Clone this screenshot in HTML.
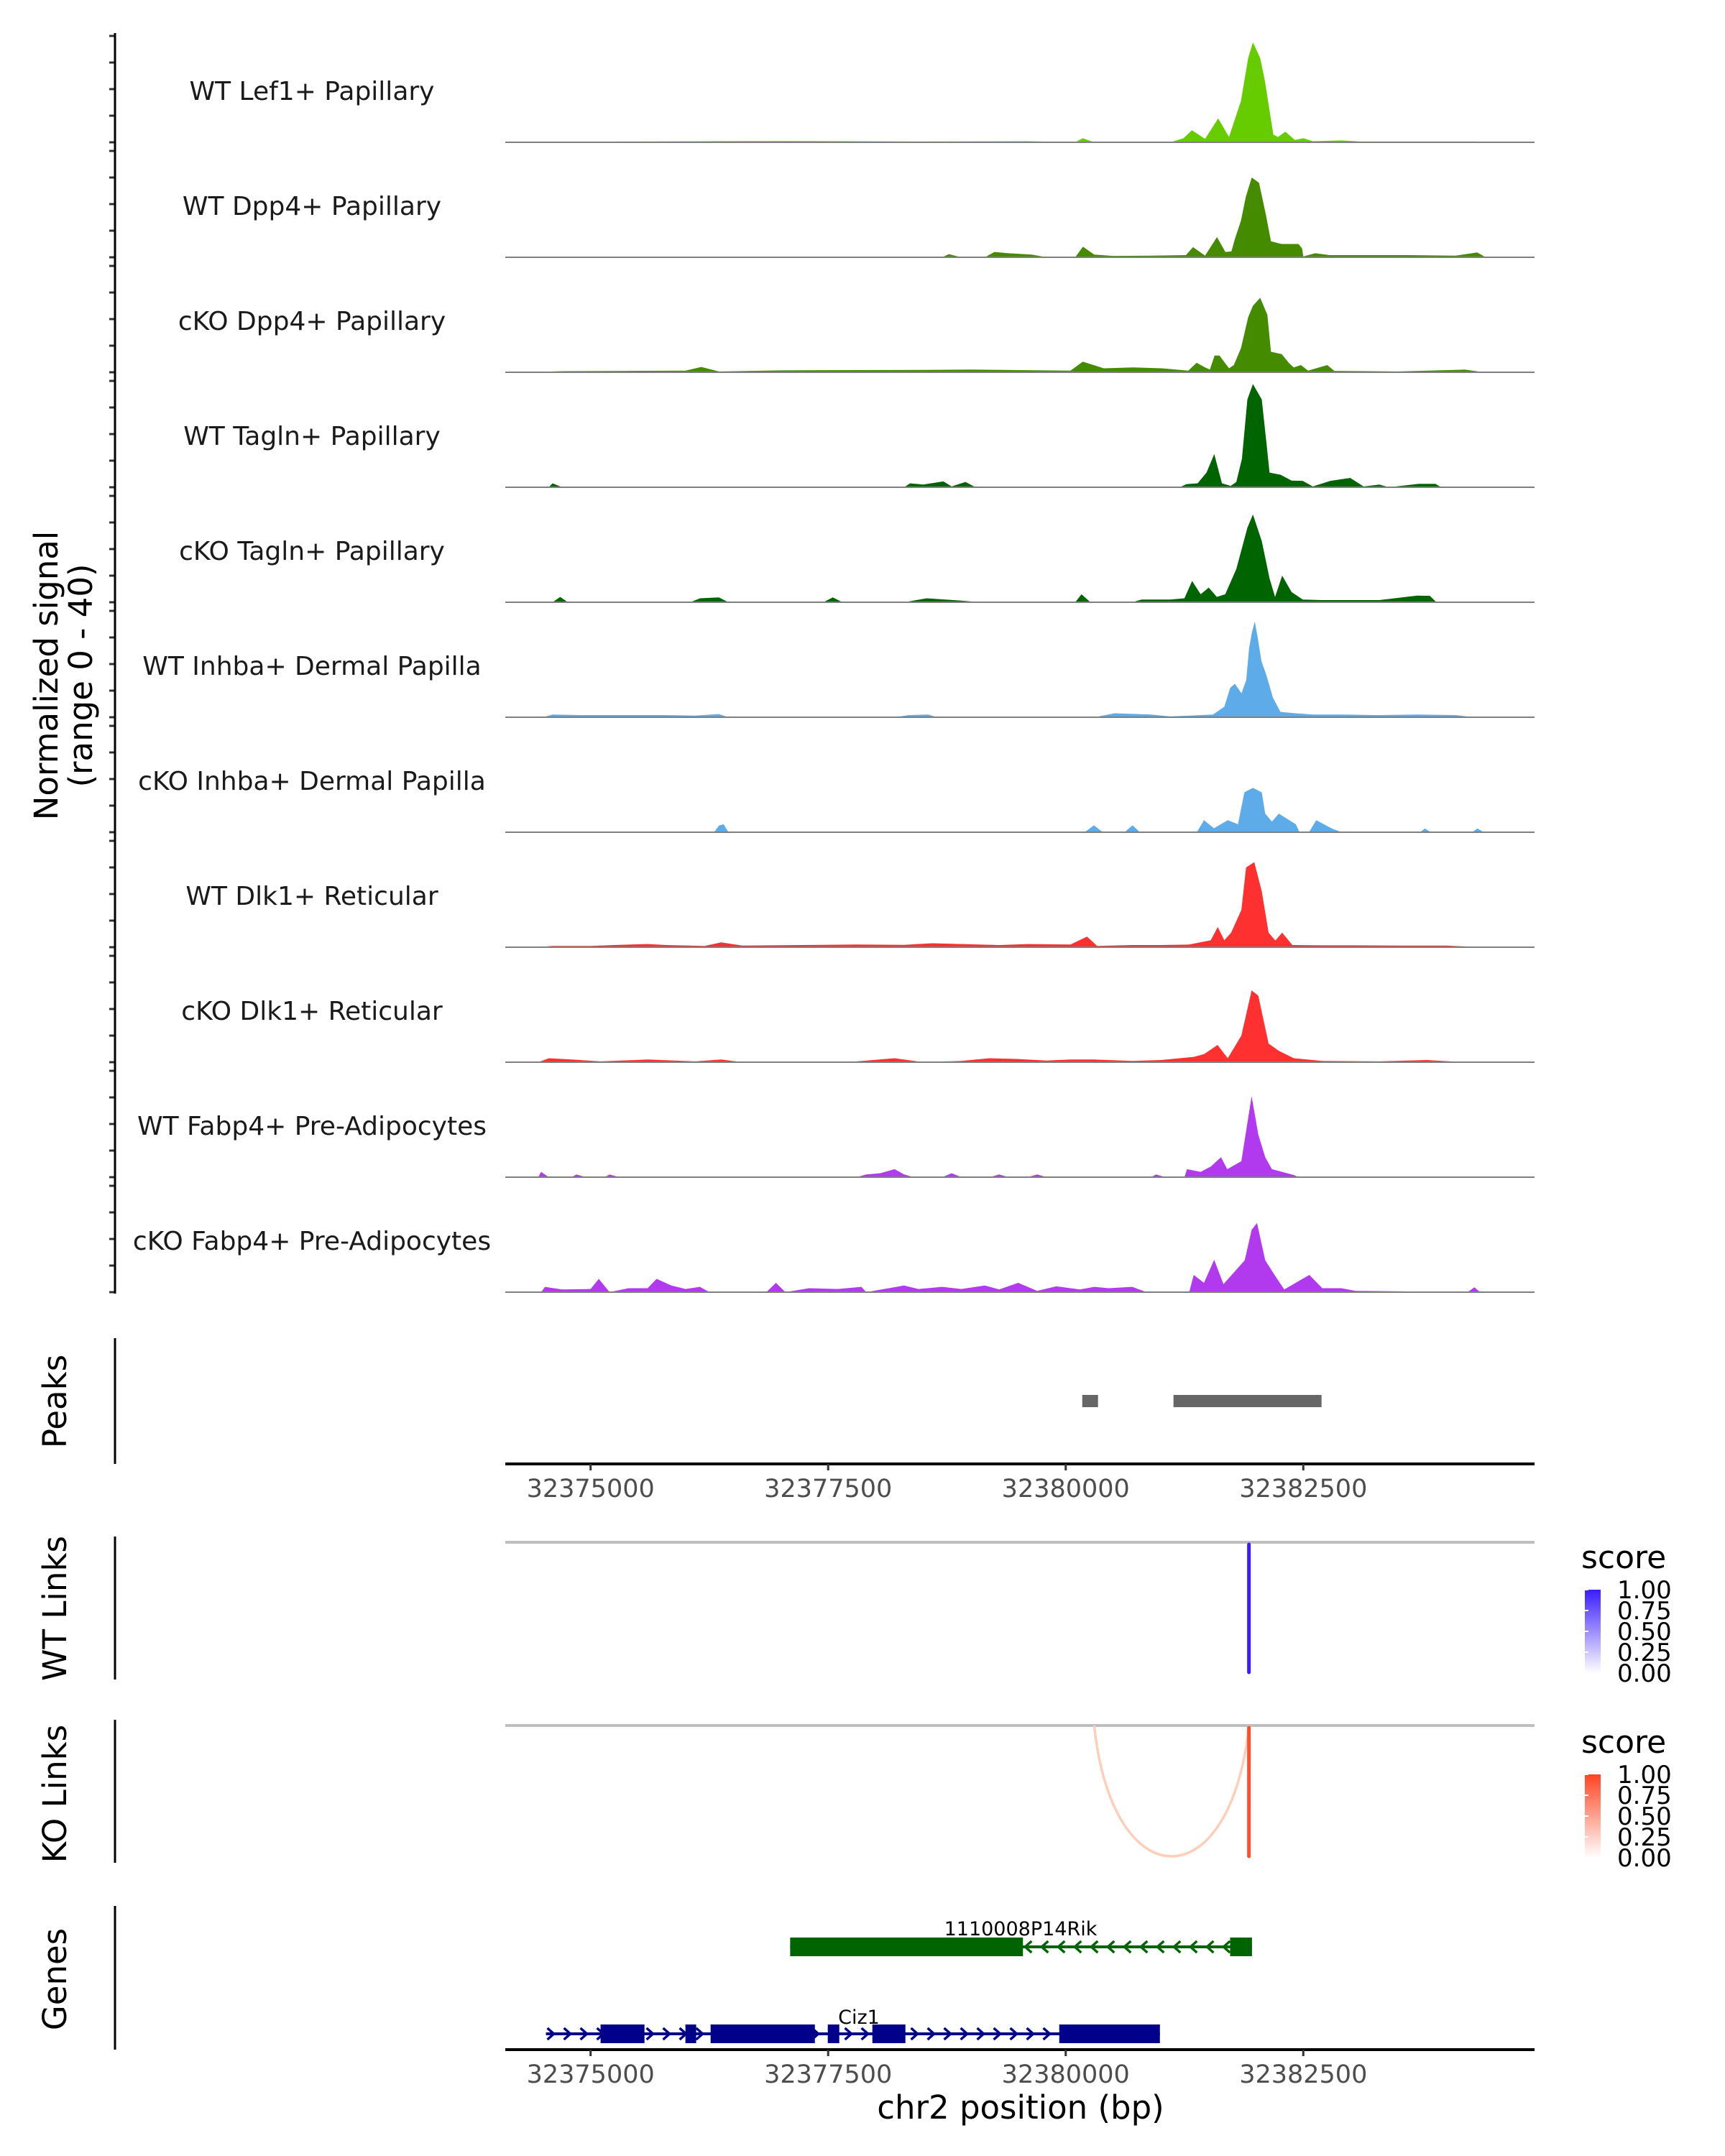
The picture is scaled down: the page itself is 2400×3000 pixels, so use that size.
<!DOCTYPE html>
<html><head><meta charset="utf-8">
<style>
html,body{margin:0;padding:0;background:#fff;}
svg{display:block;font-family:"DejaVu Sans","Liberation Sans",sans-serif;}
</style></head>
<body>
<svg id="chart" width="2400" height="3000" viewBox="0 0 2400 3000" xmlns="http://www.w3.org/2000/svg">
<rect x="0" y="0" width="2400" height="3000" fill="#fff"/>
<g id="tracks"></g>
<g id="annot"></g>
</svg>
<script>
// ---------- data ----------
const trackNames = ["WT Lef1+ Papillary","WT Dpp4+ Papillary","cKO Dpp4+ Papillary","WT Tagln+ Papillary","cKO Tagln+ Papillary","WT Inhba+ Dermal Papilla","cKO Inhba+ Dermal Papilla","WT Dlk1+ Reticular","cKO Dlk1+ Reticular","WT Fabp4+ Pre-Adipocytes","cKO Fabp4+ Pre-Adipocytes"];
const trackColors = ["#66cc00","#458b00","#458b00","#006400","#006400","#5eabea","#5eabea","#ff3030","#ff3030","#b23aee","#b23aee"];
const sigLef1WT = [[32375000,0],[32375300,0.3],[32376300,0.4],[32377100,0.5],[32378500,0.3],[32379600,0.4],[32380100,0],[32380180,1.5],[32380300,0],[32381100,0],[32381239,1.5],[32381328,4.5],[32381466,1.3],[32381605,9],[32381718,2],[32381844,15.5],[32381920,31.7],[32381970,37.6],[32382046,31.7],[32382096,23],[32382185,2.9],[32382235,2],[32382311,4],[32382412,0.9],[32382500,1.5],[32382601,0.4],[32382900,0.7],[32383100,0.3],[32384300,0.3],[32384500,0]];
const sigDpp4WT = [[32378700,0],[32378770,1.2],[32378900,0],[32379150,0],[32379250,2],[32379400,1.5],[32379640,1],[32379800,0],[32380100,0],[32380181,4],[32380300,1],[32380500,0.5],[32380900,0.6],[32381265,0.8],[32381340,3.8],[32381466,0.6],[32381592,7.6],[32381680,2],[32381744,2.2],[32381781,7],[32381844,13.7],[32381895,22.7],[32381958,30],[32382034,28],[32382109,15.5],[32382160,6],[32382273,5],[32382450,5],[32382487,3.3],[32382500,0.3],[32382626,1.5],[32382777,0.8],[32383100,0.8],[32383600,0.8],[32384100,0.6],[32384330,1.8],[32384420,0]];
const sigDpp4cKO = [[32374300,0],[32374700,0.4],[32375400,0.5],[32376000,0.6],[32376165,2],[32376350,0.3],[32377000,0.7],[32377800,0.8],[32378500,0.9],[32379000,1],[32379500,0.8],[32380050,0.6],[32380180,4],[32380400,1.5],[32380710,1.8],[32381013,1.5],[32381290,0.6],[32381378,3.6],[32381466,1.8],[32381517,1],[32381567,6.3],[32381618,6.3],[32381718,1.5],[32381769,2.7],[32381844,9],[32381920,20.7],[32381970,25],[32382046,28],[32382122,21.6],[32382160,7.7],[32382273,6.8],[32382349,3.5],[32382399,1.8],[32382475,2.7],[32382550,0.6],[32382752,2.7],[32382828,0.5],[32383500,0.3],[32384200,1],[32384400,0]];
const sigTaglnWT = [[32374560,0],[32374600,1.5],[32374700,0],[32378300,0],[32378363,1.5],[32378500,1],[32378712,2.2],[32378800,0.3],[32378945,2],[32379050,0],[32381200,0],[32381272,1.2],[32381388,1.5],[32381481,5.5],[32381563,12.5],[32381644,1.5],[32381737,0.5],[32381795,2],[32381854,10.7],[32381912,33],[32381970,38.8],[32382063,33],[32382110,17.5],[32382145,5.5],[32382261,4.7],[32382377,2.5],[32382494,2.4],[32382600,0.3],[32382785,2.4],[32382994,3.5],[32383134,0.3],[32383300,1],[32383400,0],[32383715,1.3],[32383890,1.3],[32383950,0]];
const sigTaglnCKO = [[32374600,0],[32374680,2],[32374760,0],[32376050,0],[32376152,1.5],[32376350,1.8],[32376450,0],[32377450,0],[32377548,1.8],[32377650,0],[32378300,0],[32378537,1.5],[32378900,0.6],[32379100,0],[32380100,0],[32380166,3],[32380260,0],[32380700,0],[32380800,1],[32381100,1],[32381249,1.5],[32381330,8],[32381420,3],[32381505,5.5],[32381590,2],[32381679,3],[32381795,12.5],[32381912,28],[32381970,33],[32382063,23],[32382145,9],[32382203,2],[32382278,10],[32382377,3.8],[32382494,1],[32382700,0.8],[32383300,0.8],[32383700,2.5],[32383832,2.4],[32383900,0]];
const sigInhbaWT = [[32374500,0],[32374600,1],[32374900,0.8],[32375300,0.8],[32375800,0.8],[32376100,0.6],[32376350,1.2],[32376450,0],[32378200,0],[32378350,0.8],[32378550,1],[32378650,0],[32380300,0],[32380515,1.5],[32380900,1],[32381100,0.3],[32381300,0.6],[32381550,1],[32381670,4],[32381730,11],[32381780,12.6],[32381850,9],[32381900,14],[32381930,26],[32381960,32],[32381990,36],[32382020,30],[32382060,21],[32382110,16],[32382180,7.4],[32382260,2],[32382420,1.5],[32382600,1],[32382900,1],[32383300,0.8],[32383700,1],[32384100,0.8],[32384300,0]];
const sigInhbaCKO = [[32376300,0],[32376350,2.5],[32376400,3],[32376450,0],[32380200,0],[32380296,2.6],[32380390,0],[32380620,0],[32380703,2.6],[32380780,0],[32381380,0],[32381455,4.5],[32381560,1.5],[32381705,4.5],[32381813,3],[32381880,15],[32381970,16.7],[32382063,15],[32382099,7],[32382170,4],[32382242,7],[32382421,3],[32382460,0],[32382560,0],[32382636,4.5],[32382800,1.4],[32382900,0],[32383730,0],[32383780,1.4],[32383840,0],[32384280,0],[32384331,1.4],[32384400,0]];
const sigDlk1WT = [[32374450,0],[32374600,0.5],[32375000,0.5],[32375300,0.9],[32375600,1.2],[32375800,0.8],[32376200,0.5],[32376374,1.8],[32376600,0.6],[32377200,0.8],[32377800,1],[32378300,0.9],[32378600,1.5],[32378900,1.2],[32379300,0.8],[32379600,1.2],[32380050,1],[32380224,4],[32380330,0.5],[32380700,0.8],[32381000,0.8],[32381300,1],[32381526,2.6],[32381600,7.6],[32381669,2.6],[32381741,5.5],[32381848,14],[32381898,30],[32381984,32],[32382063,21],[32382135,5.5],[32382206,2.5],[32382278,5.5],[32382385,0.8],[32382700,0.7],[32383000,0.7],[32383500,0.6],[32384000,0.6],[32384400,0]];
const sigDlk1CKO = [[32374450,0],[32374560,1.5],[32374800,1],[32375100,0.3],[32375600,1],[32376100,0.3],[32376374,1],[32376600,0],[32377700,0],[32378199,1.5],[32378500,0],[32378900,0.5],[32379200,1.5],[32379500,1.2],[32379800,0.6],[32380050,1],[32380300,1],[32380703,0.5],[32381000,0.8],[32381347,2],[32381455,3],[32381598,6.5],[32381705,1.5],[32381848,10],[32381956,27],[32382027,25],[32382135,7],[32382242,4.3],[32382400,1.5],[32382700,0.5],[32383300,0.3],[32383800,0.8],[32384200,0]];
const sigFabp4WT = [[32374450,0],[32374478,2],[32374560,0],[32374800,0],[32374850,1],[32374950,0],[32375150,0],[32375200,1],[32375300,0],[32377800,0],[32377900,1],[32378050,1.5],[32378199,3],[32378300,1],[32378400,0],[32378700,0],[32378800,1.5],[32378900,0],[32379200,0],[32379300,1],[32379400,0],[32379600,0],[32379700,1],[32379800,0],[32380900,0],[32380950,1],[32381050,0],[32381250,0],[32381276,3],[32381420,2],[32381526,4],[32381634,7.5],[32381700,3],[32381848,6],[32381956,30.5],[32382027,16],[32382099,7.5],[32382170,3],[32382400,0.8],[32382450,0]];
const sigFabp4CKO = [[32374480,0],[32374520,2],[32374700,1],[32375000,1.2],[32375086,5],[32375200,0],[32375400,1.5],[32375600,1.5],[32375694,5],[32375850,2.5],[32376000,1.2],[32376150,2],[32376250,0],[32376850,0],[32376950,3.5],[32377050,0],[32377300,1.5],[32377600,1.2],[32377850,2],[32377900,0],[32378300,2.5],[32378450,1.2],[32378700,2],[32378900,1.2],[32379150,2.5],[32379300,1],[32379500,3.5],[32379700,0.5],[32379900,2.2],[32380150,1],[32380300,2],[32380450,1.5],[32380700,2],[32380850,0],[32381300,0],[32381347,6.5],[32381455,3.5],[32381562,12.2],[32381660,3],[32381884,12],[32381956,23.4],[32382013,26],[32382099,12],[32382206,6],[32382300,1],[32382564,6.5],[32382700,1.5],[32382900,1.5],[32383050,0.5],[32384230,0],[32384300,1.8],[32384360,0]];
const trackSignals = [sigLef1WT,sigDpp4WT,sigDpp4cKO,sigTaglnWT,sigTaglnCKO,sigInhbaWT,sigInhbaCKO,sigDlk1WT,sigDlk1CKO,sigFabp4WT,sigFabp4CKO];
const xTicks = [32375000,32377500,32380000,32382500];
const peakStarts = [32380174,32381134];
const peakEnds = [32380340,32382692];
const wtLinkStart = [32381928];
const wtLinkEnd = [32381928];
const wtLinkScore = [1.0];
const koLinkStart = [32380300,32381928];
const koLinkEnd = [32381928,32381928];
const koLinkScore = [0.2,0.9];
const legendTicks = ["1.00","0.75","0.50","0.25","0.00"];
const rikExonStart = [32377100,32381730];
const rikExonEnd = [32379550,32381960];
const ciz1ExonStart = [32375105,32375998,32376263,32377496,32377965,32379932];
const ciz1ExonEnd = [32375567,32376111,32377360,32377617,32378313,32380991];
const ciz1Start = 32374530, ciz1End = 32380991;

// ---------- scales ----------
const X0=703, X1=2135;
function x(bp){ return 821.7 + (bp-32375000)*0.13221; }
function baseY(i){ return 198 + i*160; }
function yv(i,v){ return baseY(i) - Math.min(v,40)*3.7; }

const NS="http://www.w3.org/2000/svg";
function mk(tag, attrs, parent){ const e=document.createElementNS(NS,tag); for(const k in attrs) e.setAttribute(k,attrs[k]); parent.appendChild(e); return e; }
const T=document.getElementById('tracks'), A=document.getElementById('annot');

trackSignals.forEach((sig,i)=>{
  const g=mk('g',{},T);
  
  
  let d='M'+x(sig[0][0]).toFixed(1)+','+baseY(i);
  sig.forEach(p=>{ d+=' L'+x(p[0]).toFixed(1)+','+yv(i,p[1]).toFixed(1); });
  d+=' L'+x(sig[sig.length-1][0]).toFixed(1)+','+baseY(i)+' Z';
  const a=mk('path',{d:d,fill:trackColors[i]},g);
  
  
  const bl=mk('line',{x1:X0,x2:X1,y1:baseY(i),y2:baseY(i),stroke:'#7f7f7f','stroke-width':2},g);
  
  
  const t=mk('text',{x:434,y:baseY(i)-59,'font-size':36,fill:'#1a1a1a','text-anchor':'middle'},g);
  t.textContent=trackNames[i];
  
  
  for(let k=0;k<5;k++){
    const ty=baseY(i)-k*37;
    const tk=mk('line',{x1:152,x2:160,y1:ty,y2:ty,stroke:'#333','stroke-width':3},g);
    
    
  }
});
const yax=mk('line',{x1:160,x2:160,y1:46,y2:1800,stroke:'#000','stroke-width':3},T);


const yt=mk('text',{transform:'translate(80,940) rotate(-90)','font-size':45,'text-anchor':'middle',fill:'#000'},T);


const ts1=mk('tspan',{x:0,dy:0},yt); ts1.textContent='Normalized signal';
const ts2=mk('tspan',{x:0,dy:48},yt); ts2.textContent='(range 0 - 40)';

function panelAxis(y1,y2,title,cy,name){
  const l=mk('line',{x1:160,x2:160,y1:y1,y2:y2,stroke:'#000','stroke-width':3},A);
  
  
  const t=mk('text',{transform:'translate(80,'+cy+') rotate(-90)','font-size':45,'text-anchor':'middle','dominant-baseline':'middle',fill:'#000'},A);
  t.textContent=title;
  
  
}
function xAxis(y,name){
  const l=mk('line',{x1:X0,x2:X1,y1:y,y2:y,stroke:'#000','stroke-width':4},A);
  
  
  xTicks.forEach(t=>{
    const tk=mk('line',{x1:x(t),x2:x(t),y1:y,y2:y+9,stroke:'#333','stroke-width':3},A);
    
    
    const tl=mk('text',{x:x(t),y:y+46,'font-size':35,fill:'#4d4d4d','text-anchor':'middle'},A);
    tl.textContent=String(t);
    
    
  });
}
panelAxis(1862,2037,'Peaks',1950,'peaks');
peakStarts.forEach((s,i)=>{
  const r=mk('rect',{x:x(s),y:1941,width:x(peakEnds[i])-x(s),height:17,fill:'#666'},A);
  
  
});
xAxis(2037,'peaks-x-axis');

function linkPanel(top,bottom,starts,ends,scores,color,pale,name,title,cy,legY){
  panelAxis(top-8,top+191,title,cy,name);
  const g=mk('line',{x1:X0,x2:X1,y1:top,y2:top,stroke:'#bebebe','stroke-width':4},A);
  
  
  starts.forEach((s,i)=>{
    const xa=x(s), xb=x(ends[i]);
    let p;
    if(Math.abs(xb-xa)<2){
      p=mk('line',{x1:xa,x2:xb,y1:top+3,y2:bottom,stroke:color,'stroke-width':5,'stroke-linecap':'round','stroke-opacity':0.4+0.6*scores[i]},A);
    } else {
      const c=top+(bottom-top)/0.75;
      p=mk('path',{d:'M'+xa+','+top+' C'+(xa+25)+','+c+' '+(xb-25)+','+c+' '+xb+','+top,fill:'none',stroke:pale,'stroke-width':3.5},A);
    }
    
    
  });
  const lt=mk('text',{x:2200,y:legY-30,'font-size':44,fill:'#000'},A);
  lt.textContent='score';
  
  
  const gid='grad-'+name;
  const defs=mk('defs',{},A);
  const lg=mk('linearGradient',{id:gid,x1:0,y1:1,x2:0,y2:0},defs);
  mk('stop',{offset:0,'stop-color':'#ffffff'},lg);
  mk('stop',{offset:1,'stop-color':color},lg);
  const cb=mk('rect',{x:2205,y:legY,width:22,height:116,fill:'url(#'+gid+')'},A);
  
  
  legendTicks.forEach((s,k)=>{
    const ty=legY+k*29;
    const w=mk('line',{x1:2205,x2:2210,y1:ty,y2:ty,stroke:'#fff','stroke-width':2},A);
    
    
    const t=mk('text',{x:2250,y:ty+12,'font-size':34,fill:'#000'},A);
    t.textContent=s;
    
    
  });
}
linkPanel(2146,2327,wtLinkStart,wtLinkEnd,wtLinkScore,'#3a1cff','#c8c0ff','wt-links','WT Links',2238,2212);
linkPanel(2401,2583,koLinkStart,koLinkEnd,koLinkScore,'#ff4422','#fdcfbb','ko-links','KO Links',2496,2469);

panelAxis(2652,2852,'Genes',2754,'genes');
function gene(y,start,end,es,ee,color,dir,label,lx,ly,name){
  const g=mk('g',{},A);
  
  
  mk('line',{x1:x(start),x2:x(end),y1:y,y2:y,stroke:color,'stroke-width':4},g);
  for(let px=x(start)+8; px<x(end)-6; px+=23){
    const d = dir>0 ? 'M'+(px-6)+','+(y-8)+' L'+(px+3)+','+y+' L'+(px-6)+','+(y+8)
                    : 'M'+(px+6)+','+(y-8)+' L'+(px-3)+','+y+' L'+(px+6)+','+(y+8);
    mk('path',{d:d,fill:'none',stroke:color,'stroke-width':3.5},g);
  }
  es.forEach((s,i)=>{
    const r=mk('rect',{x:x(s),y:y-13,width:x(ee[i])-x(s),height:26,fill:color},g);
    
    
  });
  const t=mk('text',{x:lx,y:ly,'font-size':27,fill:'#000','text-anchor':'middle'},g);
  t.textContent=label;
  
  
}
gene(2709,32377100,32381960,rikExonStart,rikExonEnd,'#006400',-1,'1110008P14Rik',1420,2693,'gene-1110008P14Rik');
gene(2830,ciz1Start,ciz1End,ciz1ExonStart,ciz1ExonEnd,'#00008b',1,'Ciz1',1195,2816,'gene-Ciz1');
xAxis(2852,'x-axis');
const xt=mk('text',{x:1420,y:2948,'font-size':45,'text-anchor':'middle',fill:'#000'},A);
xt.textContent='chr2 position (bp)';


</script>
</body></html>
